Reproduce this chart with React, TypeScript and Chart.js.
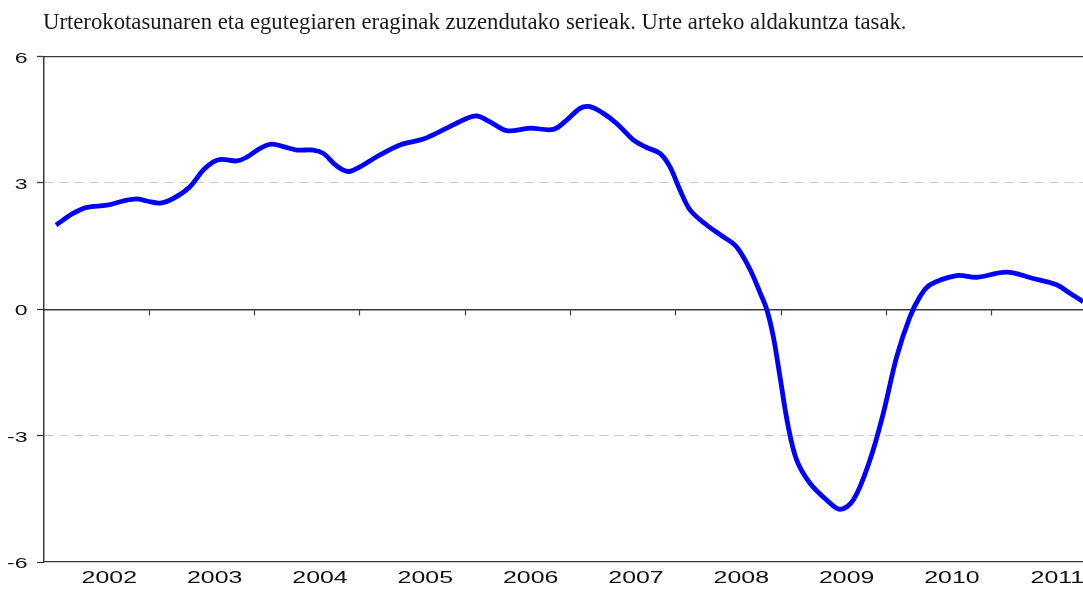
import React, { useEffect, useRef } from "react";
import { Chart, registerables } from "chart.js";

Chart.register(...registerables);

const TITLE =
  "Urterokotasunaren eta egutegiaren eraginak zuzendutako serieak. Urte arteko aldakuntza tasak.";

const yearLabels = ["2002", "2003", "2004", "2005", "2006", "2007", "2008", "2009", "2010", "2011"];
const yearLabelPos = [0.62, 1.62, 2.62, 3.62, 4.62, 5.62, 6.62, 7.62, 8.62, 9.62];
const yearTickPos = [1, 2, 3, 4, 5, 6, 7, 8, 9];
const yTicks = [-6, -3, 0, 3, 6];
const X_MIN = 0;
const X_MAX = 9.864;

const xPos = [
  0.114, 0.279, 0.406, 0.596, 0.753, 0.88, 0.975, 1.101, 1.228, 1.386, 1.513, 1.608, 1.687, 1.83,
  1.925, 2.051, 2.162, 2.272, 2.399, 2.557, 2.652, 2.779, 2.889, 3.0, 3.159, 3.38, 3.601, 3.823,
  4.013, 4.108, 4.234, 4.393, 4.614, 4.835, 4.962, 5.089, 5.184, 5.31, 5.437, 5.595, 5.722, 5.848,
  5.943, 6.038, 6.133, 6.291, 6.449, 6.576, 6.702, 6.797, 6.861, 6.924, 6.987, 7.066, 7.146, 7.272,
  7.431, 7.557, 7.683, 7.841, 7.968, 8.095, 8.221, 8.316, 8.411, 8.665, 8.855, 9.139, 9.392, 9.614,
  9.74, 9.864, 9.93,
];
const values = [
  2.0, 2.28, 2.42, 2.47, 2.57, 2.62, 2.57, 2.52, 2.63, 2.91, 3.31, 3.5, 3.56, 3.52,
  3.61, 3.82, 3.92, 3.86, 3.78, 3.78, 3.7, 3.4, 3.27, 3.38, 3.62, 3.9, 4.04, 4.3,
  4.53, 4.59, 4.45, 4.24, 4.3, 4.27, 4.49, 4.77, 4.81, 4.65, 4.41, 4.02, 3.84, 3.7,
  3.38, 2.83, 2.36, 2.0, 1.72, 1.48, 0.95, 0.4, 0.0, -0.65, -1.6, -2.79, -3.58, -4.13,
  -4.53, -4.75, -4.53, -3.58, -2.47, -1.13, -0.18, 0.3, 0.58, 0.8, 0.76, 0.88, 0.73, 0.58,
  0.38, 0.18, 0.08,
];

const AXIS_COLOR = "#3a3a3a";

const labelPlugin = {
  id: "stretchedLabels",
  afterDraw(chart: any) {
    const ctx = chart.ctx as CanvasRenderingContext2D;
    const xs = chart.scales.x;
    const ys = chart.scales.y;
    ctx.save();
    ctx.fillStyle = "#111";
    // y labels
    ctx.font = '15.4px "Liberation Sans", Arial, sans-serif';
    ctx.textAlign = "right";
    ctx.textBaseline = "alphabetic";
    yTicks.forEach((v) => {
      const py = ys.getPixelForValue(v);
      ctx.save();
      ctx.translate(27.5, py + 6);
      ctx.scale(1.5, 1);
      ctx.fillText(String(v), 0, 0);
      ctx.restore();
    });
    // x labels
    ctx.font = '16.6px "Liberation Sans", Arial, sans-serif';
    ctx.textAlign = "center";
    yearLabels.forEach((l, i) => {
      const px = xs.getPixelForValue(yearLabelPos[i]);
      ctx.save();
      ctx.translate(px, chart.chartArea.bottom + 21);
      ctx.scale(1.5, 1);
      ctx.fillText(l, 0, 0);
      ctx.restore();
    });
    // title
    ctx.font = '20px "Liberation Serif", serif';
    const w = ctx.measureText(TITLE).width;
    const size = (20 * 864) / w;
    ctx.font = `${size}px "Liberation Serif", serif`;
    ctx.textAlign = "left";
    ctx.fillStyle = "#1a1a1a";
    ctx.fillText(TITLE, 43, 29);
    ctx.restore();
  },
};

export default function App() {
  const canvasRef = useRef<HTMLCanvasElement | null>(null);

  useEffect(() => {
    const canvas = canvasRef.current;
    if (!canvas) return;
    const chart = new Chart(canvas, {
      type: "line",
      data: {
        datasets: [
          {
            label: "Serie",
            data: xPos.map((x, i) => ({ x, y: values[i] })),
            borderColor: "#0000FF",
            borderWidth: 4.8,
            pointRadius: 0,
            tension: 0.35,
            fill: false,
          },
        ],
      },
      options: {
        animation: false,
        responsive: false,
        devicePixelRatio: 1,
        layout: { padding: { top: 56.5, left: 0, right: 0, bottom: 0 } },
        plugins: {
          legend: { display: false },
          tooltip: { enabled: false },
          title: { display: false },
        },
        scales: {
          x: {
            type: "linear",
            position: "bottom",
            min: X_MIN,
            max: X_MAX,
            grid: { display: false },
            ticks: { display: false },
            border: { display: true, color: AXIS_COLOR, width: 1.3 },
            afterFit: (s: any) => {
              s.height = 32;
            },
          },
          xz: {
            type: "linear",
            position: { y: 0 },
            min: X_MIN,
            max: X_MAX,
            afterBuildTicks: (s: any) => {
              s.ticks = yearTickPos.map((v) => ({ value: v }));
            },
            ticks: { display: false },
            grid: {
              display: true,
              drawOnChartArea: false,
              drawTicks: true,
              tickLength: 5,
              tickColor: AXIS_COLOR,
              tickWidth: 1.2,
            },
            border: { display: true, color: AXIS_COLOR, width: 1.4 },
          },
          xt: {
            type: "linear",
            position: "top",
            min: X_MIN,
            max: X_MAX,
            grid: { display: false },
            ticks: { display: false },
            border: { display: true, color: AXIS_COLOR, width: 1.3 },
            afterFit: (s: any) => {
              s.height = 0;
            },
          },
          y: {
            type: "linear",
            position: "left",
            min: -6,
            max: 6,
            afterBuildTicks: (s: any) => {
              s.ticks = yTicks.map((v) => ({ value: v }));
            },
            ticks: { display: false },
            grid: {
              color: (c: any) =>
                c.tick && Math.abs(c.tick.value) === 3 ? "#c8c8c8" : "rgba(0,0,0,0)",
              lineWidth: 1,
              drawTicks: true,
              tickLength: 7,
              tickColor: AXIS_COLOR,
              tickWidth: 1.3,
              tickBorderDash: [],
            },
            border: { display: true, color: AXIS_COLOR, width: 1.5, dash: [9, 6] },
            afterFit: (s: any) => {
              s.width = 44;
            },
          },
        },
      } as any,
      plugins: [labelPlugin],
    });
    return () => chart.destroy();
  }, []);

  return (
    <div style={{ position: "absolute", left: 0, top: 0, width: 1083, height: 594, background: "#fff" }}>
      <canvas ref={canvasRef} width={1083} height={594} style={{ display: "block" }} />
    </div>
  );
}
